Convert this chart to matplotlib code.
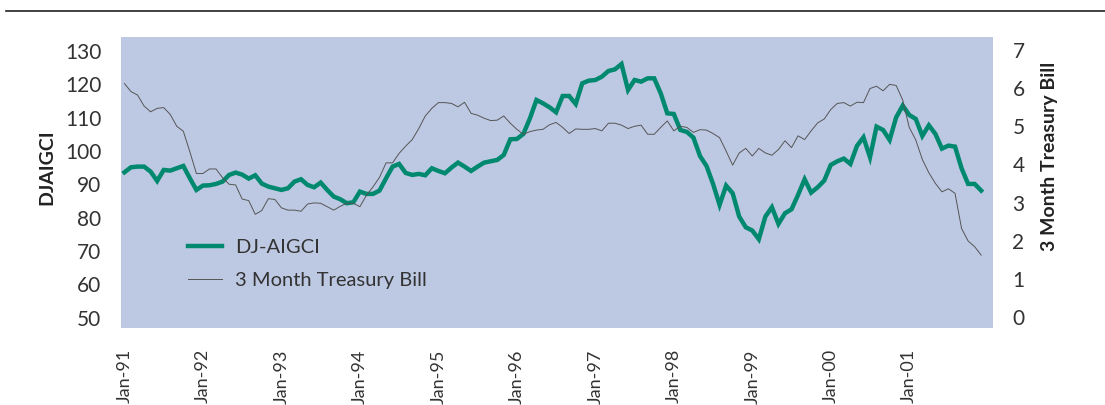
import matplotlib

matplotlib.use("Agg")
import matplotlib.pyplot as plt
from matplotlib.lines import Line2D

plt.rcParams["font.family"] = ["Lato", "DejaVu Sans"]

# Monthly values, Jan-91 .. Dec-01
djaigci = [
    93.6, 95.1, 95.3, 95.3, 93.8, 91.0, 94.3, 94.1, 94.8, 95.5, 91.8, 88.3,
    89.6, 89.7, 90.1, 90.8, 92.8, 93.5, 92.9, 91.7, 92.7, 90.2, 89.3, 88.8,
    88.3, 88.8, 90.8, 91.5, 89.8, 89.1, 90.5, 88.3, 86.3, 85.5, 84.3, 84.6,
    87.8, 87.1, 87.1, 88.1, 91.8, 95.3, 96.1, 93.4, 92.8, 93.1, 92.7, 94.8,
    94.0, 93.3, 95.0, 96.5, 95.3, 94.0, 95.3, 96.5, 96.9, 97.3, 98.8, 103.5,
    103.6, 105.1, 109.8, 115.3, 114.3, 113.1, 111.6, 116.5, 116.5, 114.1, 120.3, 121.1,
    121.3, 122.3, 124.0, 124.5, 126.1, 118.3, 121.3, 120.8, 121.8, 121.8, 117.3, 111.3,
    111.1, 106.3, 105.7, 104.0, 98.5, 95.5, 90.1, 83.8, 89.6, 87.3, 80.3, 77.1,
    76.1, 73.5, 80.3, 83.1, 78.1, 81.3, 82.5, 86.8, 91.5, 87.5, 89.1, 91.1,
    95.8, 96.9, 97.7, 96.1, 101.5, 104.1, 98.1, 107.3, 106.3, 103.3, 110.1, 113.6,
    110.8, 109.6, 104.5, 107.7, 105.1, 100.7, 101.6, 101.3, 94.8, 90.1, 90.1, 88.1,
]
tbill = [
    6.12, 5.91, 5.82, 5.53, 5.38, 5.47, 5.49, 5.31, 5.00, 4.87, 4.33, 3.76,
    3.76, 3.88, 3.88, 3.65, 3.48, 3.46, 3.09, 3.05, 2.69, 2.79, 3.10, 3.08,
    2.86, 2.80, 2.80, 2.77, 2.96, 2.99, 2.98, 2.89, 2.80, 2.90, 2.98, 2.98,
    2.89, 3.19, 3.41, 3.66, 4.04, 4.04, 4.29, 4.48, 4.65, 4.94, 5.27, 5.47,
    5.62, 5.62, 5.60, 5.51, 5.63, 5.34, 5.29, 5.21, 5.15, 5.16, 5.27, 5.08,
    4.92, 4.79, 4.86, 4.90, 4.92, 5.04, 5.10, 4.97, 4.81, 4.93, 4.92, 4.92,
    4.94, 4.88, 5.08, 5.08, 5.03, 4.94, 5.00, 5.03, 4.79, 4.79, 4.97, 5.14,
    4.88, 5.00, 4.97, 4.84, 4.91, 4.90, 4.81, 4.70, 4.35, 3.98, 4.30, 4.42,
    4.22, 4.42, 4.30, 4.24, 4.39, 4.62, 4.44, 4.75, 4.65, 4.88, 5.09, 5.19,
    5.44, 5.60, 5.62, 5.53, 5.63, 5.62, 5.99, 6.05, 5.93, 6.10, 6.07, 5.69,
    4.97, 4.64, 4.13, 3.78, 3.50, 3.28, 3.36, 3.24, 2.32, 1.99, 1.84, 1.62,
]
months = list(range(len(djaigci)))
tick_pos = list(range(0, 121, 12))
tick_labels = ["Jan-91", "Jan-92", "Jan-93", "Jan-94", "Jan-95", "Jan-96",
               "Jan-97", "Jan-98", "Jan-99", "Jan-00", "Jan-01"]
left_ticks = [50, 60, 70, 80, 90, 100, 110, 120, 130]
right_ticks = [0, 1, 2, 3, 4, 5, 6, 7]

GREEN = "#00896f"
BG = "#bdc9e3"
TXT = "#333333"

fig = plt.figure(figsize=(11.05, 4.05), dpi=100)
ax = fig.add_axes([0.1092, 0.1894, 0.7894, 0.7200])
ax2 = ax.twinx()

ax.set_facecolor(BG)
l1, = ax.plot(months, djaigci, color=GREEN, lw=3.2, solid_joinstyle="miter",
              label="DJ-AIGCI")
l2, = ax2.plot(months, tbill, color="#555555", lw=0.7, label="3 Month Treasury Bill")

ax.set_xlim(-0.58, 132.8)
ax.set_ylim(46.76, 134.3)
ax2.set_ylim(-0.30, 7.35)

ax.set_xticks(tick_pos)
ax.set_xticklabels(tick_labels, rotation=90, fontsize=13, color=TXT)
ax.set_yticks(left_ticks)
ax.set_yticklabels([str(v) for v in left_ticks], fontsize=15, color=TXT)
ax2.set_yticks(right_ticks)
ax2.set_yticklabels([str(v) for v in right_ticks], fontsize=15, color=TXT)

ax.tick_params(length=0, pad=14)
ax2.tick_params(length=0, pad=14)
ax.tick_params(axis="x", pad=15)

for a in (ax, ax2):
    for s in a.spines.values():
        s.set_visible(False)

fig.text(47 / 1105, 1 - 167.5 / 405, "DJAIGCI", rotation=90, ha="center",
         va="center", fontsize=14, color="#222222", fontweight="bold")
fig.text(1049 / 1105, 1 - 156 / 405, "3 Month Treasury Bill", rotation=90,
         ha="center", va="center", fontsize=14, color="#222222", fontweight="bold")

ax2.legend(handles=[l1, l2], loc="upper left", bbox_to_anchor=(0.077, 0.305),
           frameon=False, fontsize=14.5, handlelength=1.7, handletextpad=0.65,
           labelspacing=0.75, borderaxespad=0, borderpad=0, labelcolor=TXT)

fig.add_artist(Line2D([6 / 1105, 1.0], [1 - 11 / 405] * 2, color="#222222", lw=1.2))

fig.savefig("out.png", dpi=100)
